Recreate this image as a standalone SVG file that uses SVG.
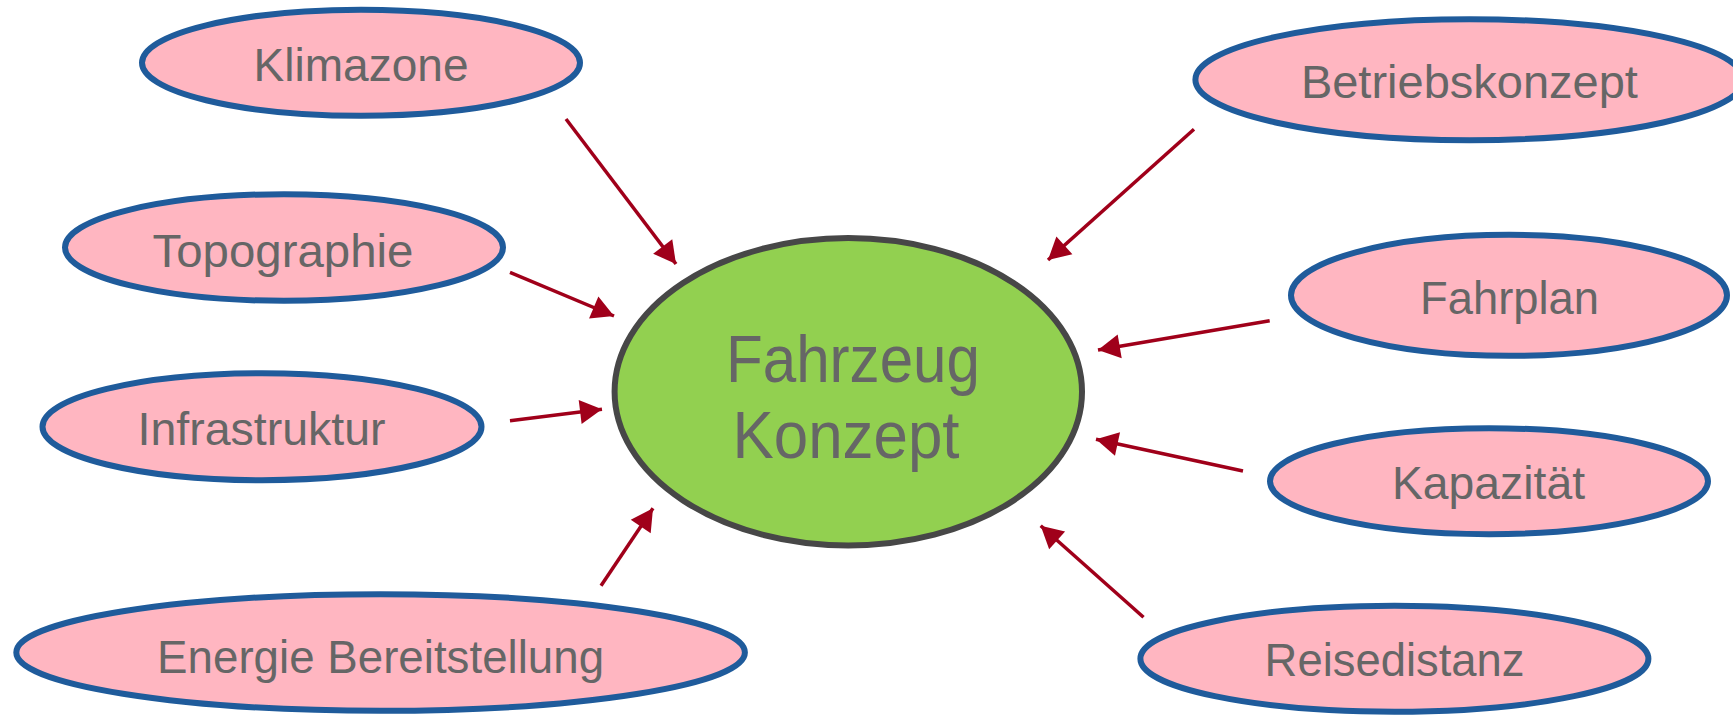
<svg xmlns="http://www.w3.org/2000/svg" width="1733" height="715" viewBox="0 0 1733 715">
<style>
.n ellipse{fill:#FFB6C1;stroke:#1F5B9B;stroke-width:6}
.n text{font-family:"Liberation Sans",Arial,sans-serif;font-size:47px;fill:#666;text-anchor:middle}
#center ellipse{fill:#92D050;stroke:#474747;stroke-width:6}
#center text{font-family:"Liberation Sans",Arial,sans-serif;font-size:66px;fill:#666;text-anchor:middle}
#edges line{stroke:#A0001A;stroke-width:3.5;fill:none}
</style>
<defs>
<marker id="ah" markerUnits="userSpaceOnUse" markerWidth="28" markerHeight="28" viewBox="-24 -14 28 28" refX="0" refY="0" orient="auto">
<path d="M-22,-12 L0,0 L-22,12 z" fill="#A0001A"/>
</marker>
</defs>
<rect width="1733" height="715" fill="#fff"/>
<g id="edges">
<line x1="566" y1="119" x2="676" y2="264" marker-end="url(#ah)"/>
<line x1="510" y1="272.3" x2="614" y2="316" marker-end="url(#ah)"/>
<line x1="510" y1="420.7" x2="602" y2="409.3" marker-end="url(#ah)"/>
<line x1="601" y1="585.7" x2="653" y2="508.3" marker-end="url(#ah)"/>
<line x1="1194" y1="129.3" x2="1048" y2="260" marker-end="url(#ah)"/>
<line x1="1269.7" y1="320.7" x2="1098" y2="350" marker-end="url(#ah)"/>
<line x1="1243" y1="471" x2="1096" y2="439.3" marker-end="url(#ah)"/>
<line x1="1143.5" y1="617.3" x2="1040.7" y2="525.7" marker-end="url(#ah)"/>
</g>
<g id="center">
<ellipse cx="848.3" cy="391.7" rx="233.7" ry="153.7"/>
<text x="853" y="382.3" textLength="254" lengthAdjust="spacingAndGlyphs">Fahrzeug</text>
<text x="846" y="458.3" textLength="227" lengthAdjust="spacingAndGlyphs">Konzept</text>
</g>
<g id="klimazone" class="n">
<ellipse cx="361" cy="62.8" rx="219" ry="53"/>
<text x="361" y="81" textLength="215" lengthAdjust="spacingAndGlyphs">Klimazone</text>
</g>
<g id="topographie" class="n">
<ellipse cx="284" cy="247.5" rx="219" ry="53.3"/>
<text x="283" y="266.7" textLength="261" lengthAdjust="spacingAndGlyphs">Topographie</text>
</g>
<g id="infrastruktur" class="n">
<ellipse cx="262" cy="426.7" rx="219.5" ry="53.5"/>
<text x="261.5" y="445" textLength="248" lengthAdjust="spacingAndGlyphs">Infrastruktur</text>
</g>
<g id="energie" class="n">
<ellipse cx="380.6" cy="652.5" rx="364.3" ry="58.3"/>
<text x="380.6" y="672.7" textLength="447" lengthAdjust="spacingAndGlyphs">Energie Bereitstellung</text>
</g>
<g id="betriebskonzept" class="n">
<ellipse cx="1469.4" cy="79.7" rx="274" ry="60.5"/>
<text x="1469.4" y="97.7" textLength="337" lengthAdjust="spacingAndGlyphs">Betriebskonzept</text>
</g>
<g id="fahrplan" class="n">
<ellipse cx="1509" cy="295.3" rx="218" ry="60.5"/>
<text x="1509.5" y="314" textLength="179" lengthAdjust="spacingAndGlyphs">Fahrplan</text>
</g>
<g id="kapazitaet" class="n">
<ellipse cx="1489" cy="481.2" rx="219" ry="53"/>
<text x="1488.5" y="499.3" textLength="193" lengthAdjust="spacingAndGlyphs">Kapazität</text>
</g>
<g id="reisedistanz" class="n">
<ellipse cx="1394.4" cy="658.7" rx="254" ry="53"/>
<text x="1394.6" y="676" textLength="260" lengthAdjust="spacingAndGlyphs">Reisedistanz</text>
</g>
</svg>
